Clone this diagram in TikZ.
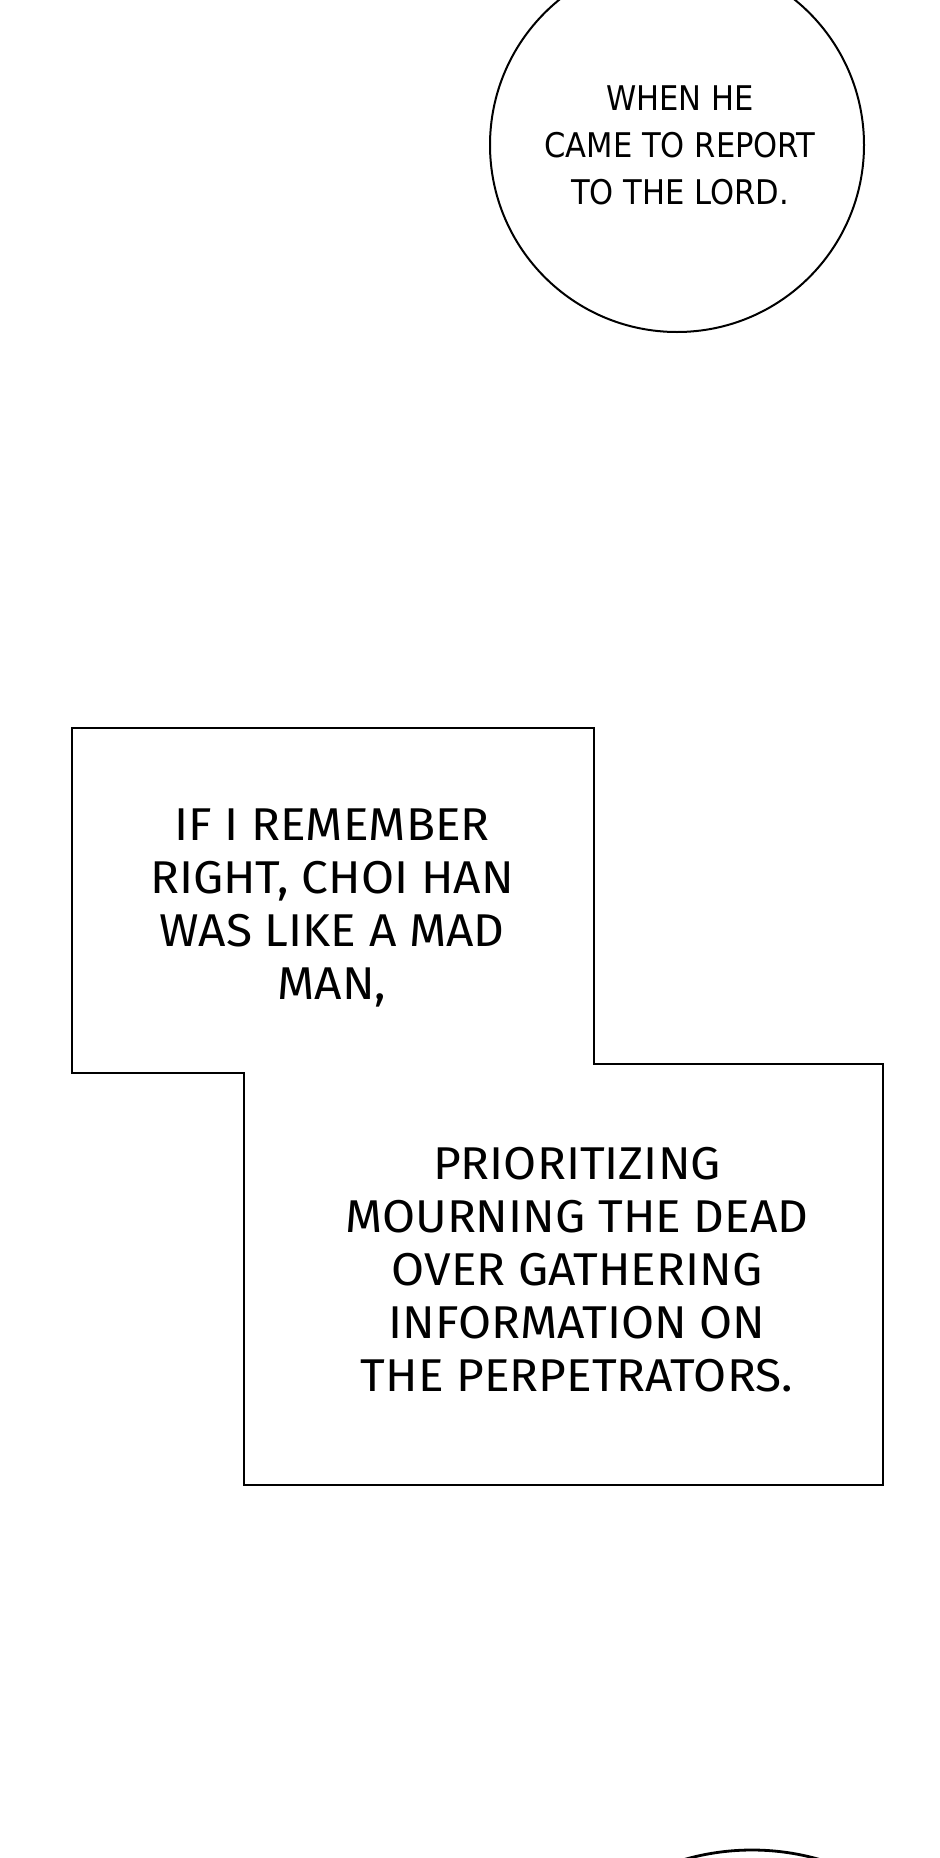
\documentclass[tikz,border=0pt]{standalone}
\usepackage{fontspec}
\setmainfont{Fira Sans}[FakeStretch=1.04]
\newfontfamily\letterfont{DejaVu Sans Condensed}

\begin{document}
\begin{tikzpicture}[x=0.5pt,y=-0.5pt,line width=1pt,
  caption/.style={align=center,inner sep=0pt,font=\fontsize{23}{26.5}\selectfont},
  bubbletext/.style={align=center,inner sep=0pt,font=\letterfont\fontsize{17}{23.5}\selectfont}]
  \useasboundingbox (0,0) rectangle (940,1858); \fill[white] (0,0) rectangle (940,1858);
  \clip (0,0) rectangle (940,1858);
  \coordinate (B1) at (72,728); \coordinate (B2) at (594,728); \coordinate (B3) at (594,1064);
  \coordinate (B4) at (883,1064); \coordinate (B5) at (883,1485); \coordinate (B6) at (244,1485);
  \coordinate (B7) at (244,1073); \coordinate (B8) at (72,1073);
  \draw (677,145) circle (187); \draw[line width=1.4pt] (752,2094) circle (244);
  \draw (B1) -- (B2) -- (B3) -- (B4) -- (B5) -- (B6) -- (B7) -- (B8) -- cycle;

  \node[bubbletext] (report) at (680,145) {WHEN HE\\CAME TO REPORT\\TO THE LORD.};
  \node[caption] (remember) at (332,908) {IF I REMEMBER\\RIGHT, CHOI HAN\\WAS LIKE A MAD\\MAN,};
  \node[caption] (mourning) at (577,1270) {PRIORITIZING\\MOURNING THE DEAD\\OVER GATHERING\\INFORMATION ON\\THE PERPETRATORS.};
\end{tikzpicture}
\end{document}
